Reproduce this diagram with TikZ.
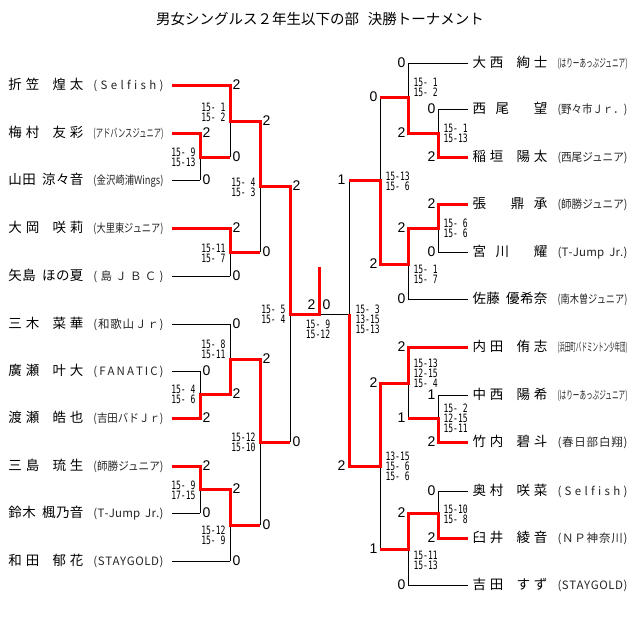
\documentclass[tikz,border=0pt]{standalone}
\usepackage{fontspec}
\usepackage{graphicx}
\setmainfont{Noto Sans CJK JP}
\newfontfamily\numfont{Liberation Sans}
\newfontfamily\gamefont[FakeStretch=0.7]{DejaVu Sans Mono}
\makeatletter
\def\sprdA#1{#1\futurelet\sprdnext\sprdB}
\def\sprdB{\ifx\sprdnext\relax\expandafter\sprdEnd\else\hfil\ifx\sprdnext\@sptoken\kern.4em\hfil\fi\expandafter\sprdA\fi}
\def\sprdEnd\relax{}
\makeatother
\newlength\clubwd
\newcommand\spread[2]{\edef\sprdtxt{#2}\makebox[#1][s]{\expandafter\sprdA\sprdtxt\relax}}
\newcommand\club[1]{\settowidth\clubwd{(#1)}\ifdim\clubwd>70pt \resizebox{70pt}{\height}{(#1)}\else\spread{70pt}{(#1)}\fi}
\newcommand\player[2]{{\fontsize{13.5}{15}\selectfont\spread{75pt}{#1}}\hspace{10pt}{\fontsize{11.5}{13}\selectfont\color{black!85}\club{#2}}}
\begin{document}
\begin{tikzpicture}[x=1pt,y=-1pt,line width=1pt,
entry/.style={anchor=west,inner sep=0pt,text height=12pt,text depth=2.5pt},
pts/.style={font=\numfont\fontsize{14}{14}\selectfont,inner sep=1pt},
games/.style={font=\gamefont\fontsize{11.5}{10}\selectfont,inner sep=0pt},
win/.style={red,line width=3pt}
]
\fill[white] (0,0) rectangle (640,637);
\node[font=\fontsize{14.5}{16}\selectfont] (title) at (320,19) {男女シングルス２年生以下の部\hspace{0.6em}決勝トーナメント};
\foreach \y/\x/\n/\c [count=\i] in {85/230/折笠 煌太/Selfish, 133/200/梅村 友彩/アドバンスジュニア,
180/200/山田 涼々音/金沢崎浦Wings, 228/230/大岡 咲莉/大里東ジュニア, 276/230/矢島 ほの夏/島ＪＢＣ,
324/230/三木 菜華/和歌山Ｊｒ, 371/200/廣瀬 叶大/FANATIC, 418/200/渡瀬 皓也/吉田バドＪｒ,
466/200/三島 琉生/師勝ジュニア, 513/200/鈴木 楓乃音/T-Jump Jr., 561/230/和田 郁花/STAYGOLD}{
\node[entry] (l\i) at (8,\y) {\player{\n}{\c}};
\draw ([xshift=8pt]l\i.east) -- (\x,\y);
}
\foreach \y/\x/\n/\c [count=\i] in {63/408/大西 絢士/はりーあっぷジュニア, 109/438/西尾 望/野々市Ｊｒ．,
157/438/稲垣 陽太/西尾ジュニア, 204/438/張 鼎承/師勝ジュニア, 252/438/宮川 耀/T-Jump Jr.,
299/408/佐藤 優希奈/南木曽ジュニア, 347/408/内田 侑志/浜田町バドミントン少年団, 395/438/中西 陽希/はりーあっぷジュニア,
442/438/竹内 碧斗/春日部白翔, 491/438/奥村 咲菜/Selfish, 538/438/臼井 綾音/ＮＰ神奈川, 585/408/吉田 すず/STAYGOLD}{
\node[entry] (r\i) at (472,\y) {\player{\n}{\c}};
\draw ([xshift=-4pt]r\i.west) -- (\x,\y);
}
\draw (200,133) -- (200,180) (200,371) -- (200,418) (200,466) -- (200,513)
(230,85) -- (230,157) (230,228) -- (230,276) (230,324) -- (230,394) (230,489) -- (230,561)
(260,121) -- (260,252) (260,359) -- (260,525) (290,186) -- (290,442) (290,314) -- (349,314)
(438,109) -- (438,157) (438,204) -- (438,252) (438,395) -- (438,442) (438,491) -- (438,538)
(408,63) -- (408,133) (408,228) -- (408,299) (408,347) -- (408,418) (408,513) -- (408,585)
(380,97) -- (380,264) (380,383) -- (380,549) (349,180) -- (349,466);
\draw[win] ([xshift=8pt]l1.east) -- (230,85) |- (260,121) |- (290,186) |- (319,314) -- (319,267);
\draw[win] ([xshift=8pt]l2.east) -- (200,133) |- (230,157);
\draw[win] ([xshift=8pt]l4.east) -- (230,228) |- (260,252);
\draw[win] ([xshift=8pt]l8.east) -- (200,418) |- (230,394) |- (260,359) |- (290,442);
\draw[win] ([xshift=8pt]l9.east) -- (200,466) |- (230,489) |- (260,525);
\draw[win] ([xshift=-4pt]r3.west) -- (438,157) |- (408,133) |- (380,97);
\draw[win] ([xshift=-4pt]r4.west) -- (438,204) |- (408,228) |- (380,264) |- (349,180);
\draw[win] ([xshift=-4pt]r7.west) -- (408,347) |- (380,383) |- (349,466) -- (349,314);
\draw[win] ([xshift=-4pt]r9.west) -- (438,442) |- (408,418);
\draw[win] ([xshift=-4pt]r11.west) -- (438,538) |- (408,513) |- (380,549);
\foreach \x/\y/\s [count=\i] in {201/133/2, 201/180/0, 201/371/0, 201/418/2, 201/466/2, 201/513/0,
231/85/2, 231/157/0, 231/228/2, 231/276/0, 231/324/0, 231/394/2, 231/489/2, 231/561/0,
261/121/2, 261/252/0, 261/359/2, 261/525/0, 291/186/2, 291/442/0}
\node[pts,anchor=west] (pl\i) at (\x,\y) {\s};
\foreach \x/\y/\s [count=\i] in {437/109/0, 437/157/2, 437/204/2, 437/252/0, 437/395/1, 437/442/2, 437/491/0, 437/538/2,
407/63/0, 407/133/2, 407/228/2, 407/299/0, 407/347/2, 407/418/1, 407/513/2, 407/585/0,
379/97/0, 379/264/2, 379/383/2, 379/549/1, 347/180/1, 347/466/2}
\node[pts,anchor=east] (pr\i) at (\x,\y) {\s};
\node[pts,anchor=south east] (fl) at (317,311) {2};
\node[pts,anchor=south west] (fr) at (321,311) {0};
\foreach \x/\y/\t [count=\i] in {196/157/{15- 9\\15-13}, 226/112/{15- 1\\15- 2}, 226/253/{15-11\\15- 7},
256/187/{15- 4\\15- 3}, 226/349/{15- 8\\15-11}, 196/394/{15- 4\\15- 6}, 256/442/{15-12\\15-10},
196/490/{15- 9\\17-15}, 226/535/{15-12\\15- 9}, 286/314/{15- 5\\15- 4}}
\node[games,anchor=east,align=left] (gl\i) at (\x,\y) {\t};
\foreach \x/\y/\t [count=\i] in {413/87/{15- 1\\15- 2}, 443/133/{15- 1\\15-13}, 385/181/{15-13\\15- 6},
443/228/{15- 6\\15- 6}, 413/274/{15- 1\\15- 7}, 355/319/{15- 3\\13-15\\15-13}, 413/373/{15-13\\12-15\\15- 4},
443/418/{15- 2\\12-15\\15-11}, 385/466/{13-15\\15- 6\\15- 6}, 443/514/{15-10\\15- 8}, 413/560/{15-11\\15-13}}
\node[games,anchor=west,align=left] (gr\i) at (\x,\y) {\t};
\node[games,align=left] (gf) at (318,329) {15- 9\\15-12};
\useasboundingbox (0,0) rectangle (640,637);
\end{tikzpicture}
\end{document}
